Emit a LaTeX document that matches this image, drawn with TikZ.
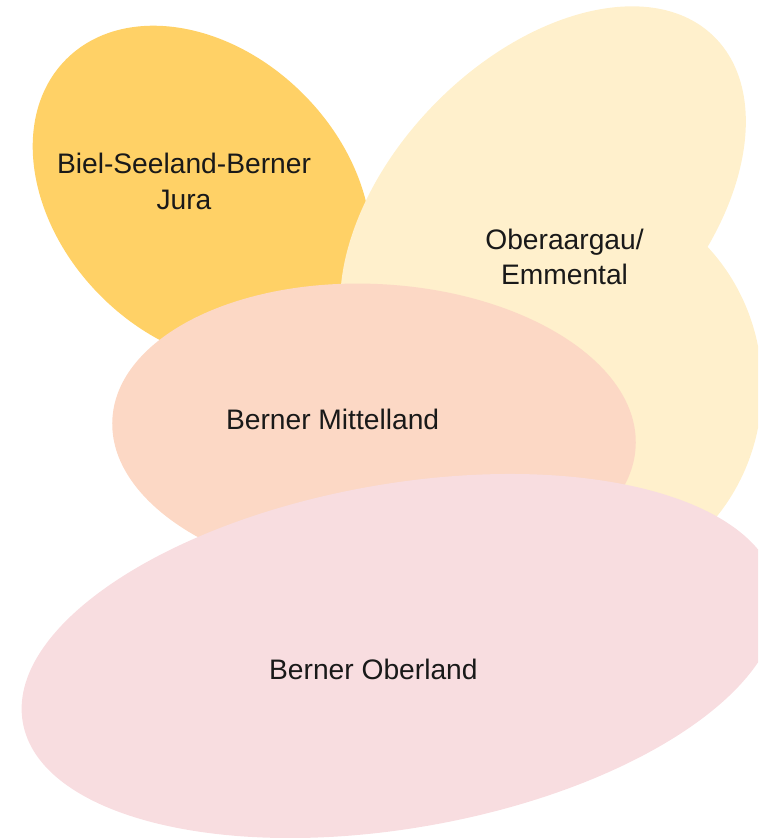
\documentclass[tikz,border=0pt]{standalone}
\usepackage{fontspec}
\setmainfont{Liberation Sans}
\begin{document}
\begin{tikzpicture}[x=1pt,y=-1pt,
  label/.style={inner sep=0pt,align=center,text=black!90,font=\fontsize{28.2}{36}\selectfont}]
\definecolor{jura}{HTML}{FFD166}
\definecolor{emme}{HTML}{FFF0CC}
\definecolor{mitte}{HTML}{FCD8C5}
\definecolor{ober}{HTML}{F8DDE0}
\useasboundingbox (0,0) rectangle (758,838);
\clip (0,0) rectangle (758,838);

% Biel-Seeland-Berner Jura
\fill[jura,rotate around={-45:(202,195)}] (202,195) ellipse [x radius=192, y radius=143];

% Oberaargau / Emmental: two overlapping lobes
\fill[emme,rotate around={45.9:(543,212)}] (543,212) ellipse [x radius=245, y radius=153];
\fill[emme] (572,387) ellipse [x radius=190, y radius=200];

% Berner Mittelland
\fill[mitte,rotate around={-3:(374,433)}] (374,433) ellipse [x radius=262, y radius=149];

% Berner Oberland
\fill[ober,rotate around={10:(400,656)}] (400,656) ellipse [x radius=383, y radius=172];

\node[label] (jura) at (184,181.9) {Biel-Seeland-Berner\\Jura};
\node[label,font=\fontsize{28.2}{35}\selectfont] (emme) at (564.5,257.3) {Oberaargau/\\Emmental};
\node[label,anchor=base] (mitte) at (332.6,429) {Berner Mittelland};
\node[label,anchor=base] (ober) at (373.4,679.3) {Berner Oberland};
\end{tikzpicture}
\end{document}
